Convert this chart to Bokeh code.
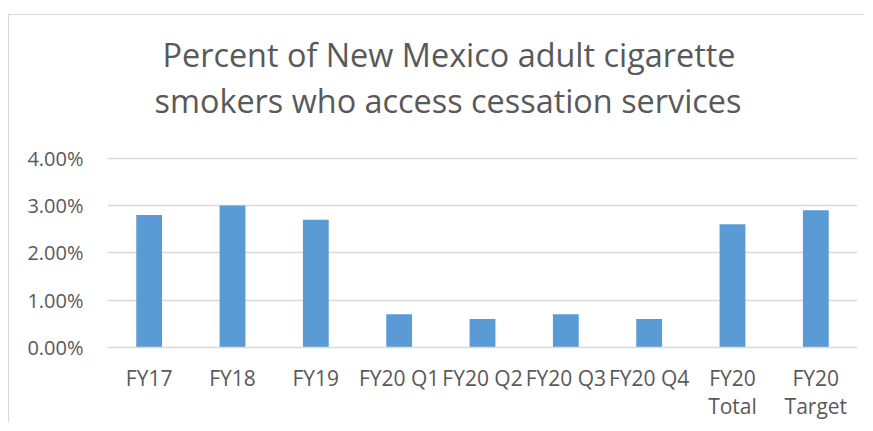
from bokeh.plotting import figure
from bokeh.models import (ColumnDataSource, Title, PrintfTickFormatter, FixedTicker,
                          Range1d, LinearAxis)
from bokeh.embed import file_html
from bokeh.resources import INLINE

categories = ["FY17", "FY18", "FY19", "FY20 Q1", "FY20 Q2", "FY20 Q3", "FY20 Q4", "FY20 Total", "FY20 Target"]
values = [2.8, 3.0, 2.7, 0.7, 0.6, 0.7, 0.6, 2.6, 2.9]
y_ticks = [0, 1, 2, 3, 4]
label_line1 = ["FY17", "FY18", "FY19", "FY20 Q1", "FY20 Q2", "FY20 Q3", "FY20 Q4", "FY20", "FY20"]
label_line2 = ["", "", "", "", "", "", "", "Total", "Target"]
title_lines = ["Percent of New Mexico adult cigarette", "smokers who access cessation services"]

FONT = "Open Sans"
TXT = "#595959"
GRID = "#d9d9d9"

xpos = [i + 0.5 for i in range(len(categories))]
src = ColumnDataSource(dict(x=xpos, cat=categories, val=values))

p = figure(x_range=Range1d(0, len(categories)), y_range=Range1d(0, 4.772), width=856, height=408,
           output_backend="svg", toolbar_location=None, x_axis_type=None,
           min_border_left=98, min_border_right=8, min_border_top=106, min_border_bottom=76,
           margin=(14, 0, 0, 8))
p.styles = {"border-top": "1px solid " + GRID, "border-left": "1px solid " + GRID}
p.outline_line_color = None
p.background_fill_color = "white"
p.border_fill_color = "white"

p.vbar(x="x", top="val", width=0.31, source=src, fill_color="#5B9BD5", line_color=None)

p.yaxis.ticker = FixedTicker(ticks=y_ticks)
p.yaxis.formatter = PrintfTickFormatter(format="%.2f%%")
p.yaxis.axis_line_color = None
p.yaxis.major_tick_line_color = None
p.yaxis.minor_tick_line_color = None
p.yaxis.major_label_text_font = FONT
p.yaxis.major_label_text_font_size = "20px"
p.yaxis.major_label_text_color = TXT
p.yaxis.major_label_standoff = 18


def make_xaxis(labels, standoff, line_color):
    ax = LinearAxis(ticker=FixedTicker(ticks=xpos), axis_line_color=line_color, axis_line_width=1.5,
                    major_tick_line_color=None, minor_tick_line_color=None,
                    major_label_text_font=FONT, major_label_text_font_size="21px",
                    major_label_text_color=TXT, major_label_standoff=standoff)
    ax.major_label_overrides = {x: (lab if lab else " ") for x, lab in zip(xpos, labels)}
    return ax


p.add_layout(make_xaxis(label_line1, 10, GRID), "below")
p.add_layout(make_xaxis(label_line2, -9, None), "below")

p.xgrid.grid_line_color = None
p.ygrid.grid_line_color = GRID
p.ygrid.grid_line_width = 1.5

# second line first (closest to plot), then first line above it
t2 = Title(text=title_lines[1], align="left", offset=47, standoff=0,
           text_font=FONT, text_font_size="32.4px", text_font_style="normal", text_color=TXT)
t1 = Title(text=title_lines[0], align="left", offset=55, standoff=0,
           text_font=FONT, text_font_size="32.4px", text_font_style="normal", text_color=TXT)
p.add_layout(t2, "above")
p.add_layout(t1, "above")

open("out.html", "w").write(file_html(p, INLINE))
